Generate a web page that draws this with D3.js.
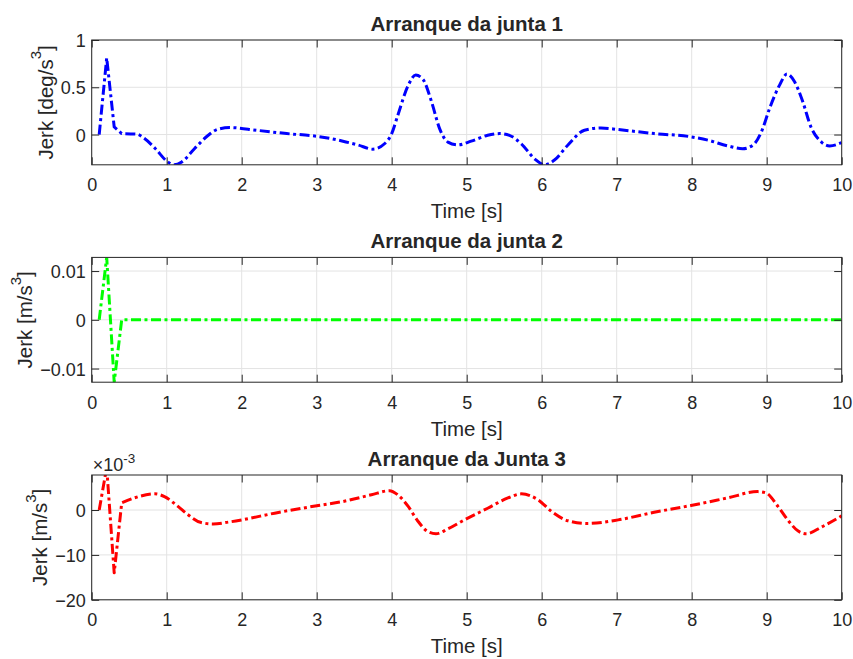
<!DOCTYPE html>
<html>
<head>
<meta charset="utf-8">
<script src="https://cdn.jsdelivr.net/npm/d3@7/dist/d3.min.js"></script>
<style>
  body { margin: 0; background: #fff; }
  text { font-family: "Liberation Sans", Arial, Helvetica, sans-serif; fill: #262626; }
</style>
</head>
<body>
<svg id="fig" width="853" height="659"></svg>
<script>
// ---- data ----
const timeTicks = [0, 1, 2, 3, 4, 5, 6, 7, 8, 9, 10];

const joint1Time = [0.1, 0.2, 0.3, 0.4, 0.6, 0.7, 0.85, 1.0, 1.1, 1.2, 1.37, 1.55, 1.68, 1.84,
  2.2, 2.6, 3.0, 3.35, 3.55, 3.75, 3.9, 4.0, 4.08, 4.22, 4.32, 4.42, 4.53, 4.64, 4.75, 4.88,
  5.06, 5.28, 5.44, 5.57, 5.73, 5.91, 6.04, 6.17, 6.35, 6.57, 6.79, 7.02, 7.5, 8.0, 8.22,
  8.48, 8.68, 8.82, 8.93, 9.04, 9.17, 9.27, 9.37, 9.48, 9.59, 9.73, 9.84, 10.0];
const joint1Jerk = [0, 0.81, 0.08, 0.01, 0.005, -0.04, -0.15, -0.28, -0.32, -0.29, -0.15, -0.01, 0.055, 0.074,
  0.045, 0.01, -0.018, -0.07, -0.11, -0.155, -0.1, 0.01, 0.2, 0.52, 0.63, 0.58, 0.35, 0.06, -0.08, -0.11,
  -0.07, -0.008, 0.01, -0.008, -0.1, -0.26, -0.32, -0.27, -0.11, 0.046, 0.07, 0.053, 0.01, -0.025, -0.06,
  -0.12, -0.15, -0.11, 0.03, 0.28, 0.52, 0.64, 0.56, 0.35, 0.08, -0.08, -0.12, -0.085];

const joint2Time = [0.1, 0.2, 0.3, 0.4, 10.0];
const joint2Jerk = [0, 0.0128, -0.0128, 0, 0];

const joint3Time = [0.1, 0.2, 0.3, 0.4, 0.57, 0.84, 0.97, 1.15, 1.28, 1.46, 1.62, 1.82, 2.0, 2.44,
  3.02, 3.35, 3.73, 3.97, 4.08, 4.22, 4.35, 4.48, 4.59, 4.75, 4.97, 5.28, 5.55, 5.73, 5.95,
  6.13, 6.35, 6.6, 7.02, 7.5, 7.99, 8.48, 8.88, 8.99, 9.15, 9.28, 9.42, 9.53, 9.73, 10.0];
const joint3Jerk = [0, 0.0095, -0.014, 0.0016, 0.0027, 0.0036, 0.003, 0.0008, -0.001, -0.0028, -0.0031, -0.0027, -0.0022, -0.0007,
  0.001, 0.0019, 0.0034, 0.0043, 0.0034, 0.0008, -0.0025, -0.0048, -0.0053, -0.0042, -0.0022, 0.0004, 0.0027, 0.0036, 0.0023,
  -0.0003, -0.0024, -0.003, -0.0022, -0.0005, 0.001, 0.0027, 0.0041, 0.0038, 0.0008, -0.0022, -0.0047, -0.0053, -0.0038, -0.0013];

const titles = ["Arranque da junta 1", "Arranque da junta 2", "Arranque da Junta 3"];
const yUnits = ["deg/s", "m/s", "m/s"];
const yTicks1 = [0, 0.5, 1];
const yTicks2 = [-0.01, 0, 0.01];
const yTicks3 = [-0.02, -0.01, 0];
const yLimits1 = [-0.32, 1];
const yLimits2 = [-0.0128, 0.0128];
const yLimits3 = [-0.02, 0.0078];

// ---- layout ----
const svg = d3.select("#fig");
const left = 91.7, right = 841.7;
const tops = [40, 257.4, 475];
const plotH = 124.8;
const tickLen = 7.5;
const axisColor = "#262626";
const gridColor = "#e3e3e3";
const dash = "10,3.5,3,3.5";

const panels = [
  { t: joint1Time, v: joint1Jerk, color: "#0000ff", ticks: yTicks1, lim: yLimits1,
    fmt: d => d3.format("~g")(d), sharp: 4 },
  { t: joint2Time, v: joint2Jerk, color: "#00ff00", ticks: yTicks2, lim: yLimits2,
    fmt: d => d3.format("~g")(d), sharp: 5 },
  { t: joint3Time, v: joint3Jerk, color: "#ff0000", ticks: yTicks3, lim: yLimits3,
    fmt: d => d3.format("~g")(Math.round(d / 1e-3)), sharp: 4, exponent: "-3" }
];

const x = d3.scaleLinear().domain([0, 10]).range([left, right]);

panels.forEach((p, i) => {
  const top = tops[i], bottom = top + plotH;
  const y = d3.scaleLinear().domain(p.lim).range([bottom, top]);
  const g = svg.append("g");

  // grid
  g.append("g").selectAll("line").data(timeTicks).join("line")
    .attr("x1", d => x(d)).attr("x2", d => x(d))
    .attr("y1", top).attr("y2", bottom)
    .attr("stroke", gridColor).attr("stroke-width", 1);
  g.append("g").selectAll("line").data(p.ticks).join("line")
    .attr("x1", left).attr("x2", right)
    .attr("y1", d => y(d)).attr("y2", d => y(d))
    .attr("stroke", gridColor).attr("stroke-width", 1);

  // data line: the first coarse samples are joined straight, the rest smoothly,
  // all in one path so the dash pattern runs on continuously
  const clipId = "clip" + i;
  svg.append("clipPath").attr("id", clipId).append("rect")
    .attr("x", left).attr("y", top).attr("width", right - left).attr("height", plotH);
  const pts = p.t.map((t, k) => [t, p.v[k]]);
  const head = pts.slice(0, p.sharp);
  const tail = pts.slice(p.sharp - 1);
  const lin = d3.line().x(d => x(d[0])).y(d => y(d[1])).curve(d3.curveLinear);
  const smooth = d3.line().x(d => x(d[0])).y(d => y(d[1])).curve(d3.curveMonotoneX);
  let d = lin(head);
  if (tail.length > 1) d += smooth(tail).replace(/^M/, "L");
  g.append("path")
    .attr("clip-path", `url(#${clipId})`)
    .attr("d", d)
    .attr("fill", "none").attr("stroke", p.color).attr("stroke-width", 3)
    .attr("stroke-dasharray", dash).attr("stroke-linejoin", "round");

  // axes (bottom/left with labels, top/right mirrored ticks)
  const xb = g.append("g").attr("transform", `translate(0,${bottom})`)
    .call(d3.axisBottom(x).tickValues(timeTicks).tickSize(-tickLen).tickPadding(13).tickFormat(d3.format("d")));
  const xt = g.append("g").attr("transform", `translate(0,${top})`)
    .call(d3.axisTop(x).tickValues(timeTicks).tickSize(-tickLen).tickFormat(""));
  const yl = g.append("g").attr("transform", `translate(${left},0)`)
    .call(d3.axisLeft(y).tickValues(p.ticks).tickSize(-tickLen).tickPadding(6).tickFormat(p.fmt));
  const yr = g.append("g").attr("transform", `translate(${right},0)`)
    .call(d3.axisRight(y).tickValues(p.ticks).tickSize(-tickLen).tickFormat(""));
  [xb, xt, yl, yr].forEach(a => {
    a.select(".domain").remove();
    a.selectAll("line").attr("stroke", axisColor).attr("stroke-width", 1);
    a.selectAll("text").attr("font-size", 18).attr("fill", axisColor);
  });
  xb.selectAll("text").attr("dy", null).attr("y", 26.5).attr("dominant-baseline", "auto");
  yl.selectAll("text").attr("dy", "0.36em");

  // box
  g.append("rect").attr("x", left).attr("y", top).attr("width", right - left).attr("height", plotH)
    .attr("fill", "none").attr("stroke", axisColor).attr("stroke-width", 1);

  // title
  g.append("text").attr("x", (left + right) / 2).attr("y", top - 9)
    .attr("text-anchor", "middle").attr("font-size", 20.5).attr("font-weight", "bold")
    .attr("fill", "#000").text(titles[i]);

  // x label
  g.append("text").attr("x", (left + right) / 2).attr("y", bottom + 53.3)
    .attr("text-anchor", "middle").attr("font-size", 20.5).text("Time [s]");

  // y label, placed just outside the widest tick label
  let minX = left;
  yl.selectAll("text").each(function () { minX = Math.min(minX, this.getBBox().x + left); });
  const ly = g.append("text")
    .attr("transform", `translate(${minX - 8},${(top + bottom) / 2}) rotate(-90)`)
    .attr("text-anchor", "middle").attr("font-size", 20.5);
  ly.append("tspan").text(`Jerk [${yUnits[i]}`);
  ly.append("tspan").attr("font-size", 15).attr("dy", "-0.75em").text("3");
  ly.append("tspan").attr("dy", "0.55em").text("]");

  // exponent multiplier
  if (p.exponent) {
    const ex = g.append("text").attr("x", left + 1).attr("y", top - 4).attr("font-size", 18);
    ex.append("tspan").text("×10");
    ex.append("tspan").attr("font-size", 13.5).attr("dy", "-0.62em").text(p.exponent);
  }
});
</script>
</body>
</html>
